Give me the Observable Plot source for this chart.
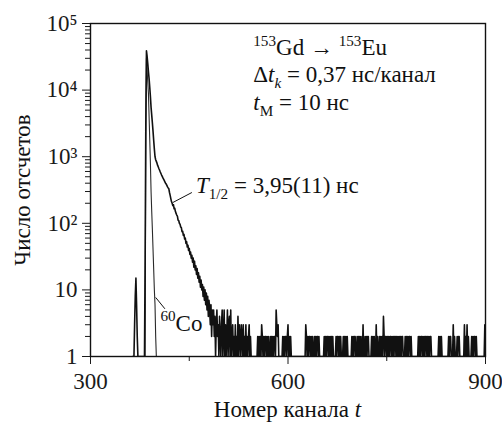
<!DOCTYPE html>
<html><head><meta charset="utf-8">
<script src="https://cdn.jsdelivr.net/npm/d3@7"></script>
<script src="https://cdn.jsdelivr.net/npm/@observablehq/plot@0.6"></script>
<style>body{margin:0;background:#fff} svg{display:block}</style>
</head><body><div id="chart"></div>
<script>
// ---- data ----
// 153Gd -> 153Eu delayed spectrum: counts per channel, starting at channel 364
const mainStart = 364;
const mainCounts = [
  1,1,1,3,8,15,6,2,1,1,
  1,1,1,1,1,1,1,1,1,30,
  3000,39000,32000,25000,19000,14900,11000,8000,5500,4200,
  3200,2400,1750,1300,1000,900,850,800,740,700,
  660,625,590,560,530,505,480,460,440,420,
  400,388,370,352,340,330,290,262,235,212,
  200,184,190,165,168,150,141,133,128,112,
  110,100,97,88,86,75,76,66,68,58,
  60,50,53,44,47,39,42,34,37,30,
  33,26,30,22,27,20,23,17,21,15,
  18,13,16,11,14,10,12,8,11,7,
  10,6,9,5,8,4,7,5,3,6,
  2,5,3,5,2,4
];
// background tail: [first channel, counts per channel as digits]
const tailBlocks = [
  [490,"1352314213"],[500,"5125131251"],[510,"3415123121"],[520,"3121413213"],
  [530,"2131213121"],[540,"231211"],[546,"11111111"],[554,"21212132121221212"],
  [571,"11"],[573,"2121212"],[580,"2153231"],[587,"11111"],[592,"21212212312121"],
  [606,"111111111111111111111"],[627,"32121221212"],[638,"11"],[640,"21212212"],
  [648,"1111111"],[655,"21212212121212"],[669,"1111"],[673,"21221212"],[681,"111"],
  [684,"2121212"],[691,"111111"],[697,"2121221"],[704,"1"],[705,"2121212"],
  [712,"11311"],[717,"212122"],[723,"1111"],[727,"21212"],[732,"113"],[735,"1211"],
  [739,"2121214212"],[749,"2121212212"],[759,"121221212"],[768,"1"],[769,"2121221"],
  [776,"11"],[778,"2121212212"],[788,"1111111111"],[798,"212122121212212121221"],
  [819,"1111111111"],[829,"21212"],[834,"1111111111"],[844,"21221"],[849,"11"],
  [851,"312111"],[857,"2122"],[861,"1111111"],[868,"3121312"],[875,"1111"],
  [879,"21212212"],[887,"111111111111"],[899,"33"]
];
// 60Co prompt curve, starting at channel 380
const coStart = 380;
const coCounts = [1,1,1,1,2000,30000,20000,13000,8900,4000,1800,800,300,150,80,40,20,10,6,2,1];

// axes
const xMajor = [300, 600, 900];
const xMinor = [450, 750];
const yMajor = [1, 10, 100, 1000, 10000, 100000];
const yMajorLabels = ["1", "10", "10²", "10³", "10⁴", "10⁵"];
const yMinorMantissas = [2, 3, 4, 5, 6, 7, 8, 9];
const xTitle = "Номер канала ";
const yTitle = "Число отсчетов";

// annotations (channel, counts at baseline) and rich-text parts
const notes = [
  {ch: 548, n: 33000, parts: [["153","sup"],["Gd → ",""],["153","sup"],["Eu",""]]},
  {ch: 548, n: 13000, parts: [["Δ",""],["t","i"],["k","isub"],[" = 0,37 нс/канал",""]]},
  {ch: 548, n: 5000,  parts: [["t","i"],["M","sub"],[" = 10 нс",""]]},
  {ch: 461, n: 280,   parts: [["T","i"],["1/2","sub"],[" = 3,95(11) нс",""]]},
  {ch: 407, n: 2.4,   parts: [["60","sup"],["Co",""]]}
];
const leaders = [
  {x1: 425, y1: 205, x2: 454, y2: 290},
  {x1: 399, y1: 7.7, x2: 413, y2: 5.2}
];

// ---- build tables ----
const mainData = mainCounts.map((n, i) => ({ch: mainStart + i, n}));
for (const [start, digits] of tailBlocks) {
  for (let i = 0; i < digits.length; i++) mainData.push({ch: start + i, n: +digits[i]});
}
mainData.sort((a, b) => a.ch - b.ch);
const coData = coCounts.map((n, i) => ({ch: coStart + i, n}));
const yMinor = [];
for (const d of yMajor.slice(0, -1)) for (const m of yMinorMantissas) yMinor.push(d * m);

const FONT = "'Liberation Serif', 'DejaVu Serif', serif";
const SIZE = 23;
const plot = Plot.plot({
  width: 502, height: 425,
  marginLeft: 90, marginRight: 17, marginTop: 23, marginBottom: 69,
  style: {fontFamily: FONT, fontSize: SIZE + "px", color: "#1a1a1a", background: "#fff"},
  x: {domain: [300, 900]},
  y: {type: "log", domain: [1, 1e5]},
  marks: [
    Plot.axisY({ticks: yMinor, tickSize: 5, tickFormat: () => "", label: null}),
    Plot.axisY({ticks: yMajor, tickSize: 8, tickPadding: 5, label: null,
      tickFormat: d => yMajorLabels[yMajor.indexOf(d)]}),
    Plot.axisX({ticks: xMinor, tickSize: 5, tickFormat: () => "", label: null}),
    Plot.axisX({ticks: xMajor, tickSize: 8, tickPadding: 8, label: null}),
    Plot.line(coData, {x: "ch", y: "n", stroke: "#2a2a2a", strokeWidth: 1.1, clip: true}),
    Plot.line(mainData, {x: "ch", y: "n", stroke: "#111", strokeWidth: 1.6, clip: true}),
    Plot.link(leaders, {x1: "x1", y1: "y1", x2: "x2", y2: "y2", stroke: "#111", strokeWidth: 1}),
    Plot.frame({stroke: "#111", strokeWidth: 1.4})
  ]
});

const svg = d3.select(plot);
const sx = plot.scale("x"), sy = plot.scale("y");
function rich(x, y, parts) {
  const t = svg.append("text").attr("x", x).attr("y", y)
    .style("text-anchor", "start")
    .style("font-family", FONT).style("font-size", SIZE + "px").attr("fill", "#111")
    .style("white-space", "pre");
  let shift = 0;
  for (const [s, kind] of parts) {
    const ts = t.append("tspan").text(s);
    const target = kind.includes("sup") ? -0.4 * SIZE : kind.includes("sub") ? 0.26 * SIZE : 0;
    ts.attr("dy", target - shift); shift = target;
    if (kind.includes("sup") || kind.includes("sub")) ts.style("font-size", (SIZE * 0.66) + "px");
    if (kind.includes("i")) ts.style("font-style", "italic");
  }
  return t;
}
for (const note of notes) rich(sx.apply(note.ch), sy.apply(note.n), note.parts);

// axis titles
const xt = svg.append("text").attr("x", (90 + 485) / 2).attr("y", 417)
  .style("text-anchor", "middle").style("font-family", FONT).style("font-size", SIZE + "px").attr("fill", "#111")
  .style("white-space", "pre");
xt.append("tspan").text(xTitle);
xt.append("tspan").style("font-style", "italic").text("t");
svg.append("text").attr("transform", "translate(30,190) rotate(-90)")
  .style("text-anchor", "middle").style("font-family", FONT).style("font-size", SIZE + "px").attr("fill", "#111")
  .text(yTitle);

document.getElementById("chart").appendChild(plot);
</script>
</body></html>
